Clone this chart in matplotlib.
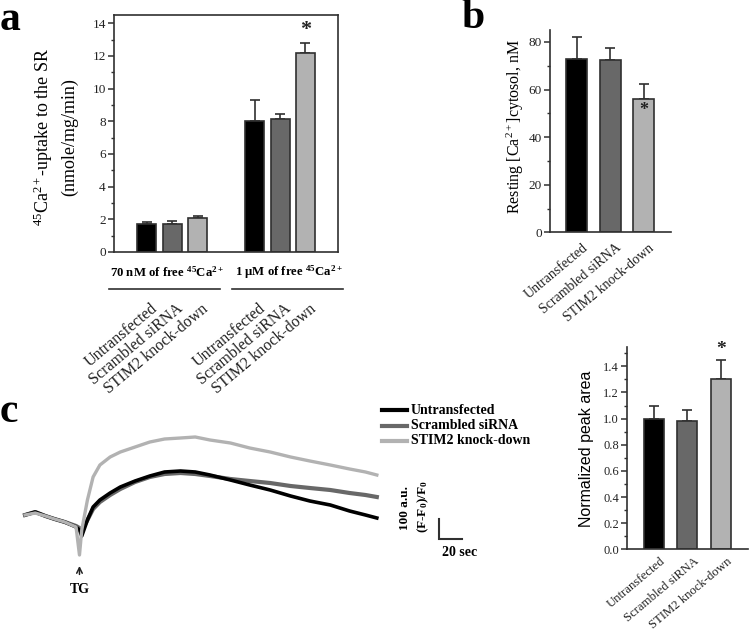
import matplotlib
matplotlib.use('Agg')
import matplotlib.pyplot as plt
from matplotlib.lines import Line2D
from matplotlib.ticker import MultipleLocator, FormatStrFormatter
from matplotlib.transforms import ScaledTranslation
import numpy as np

plt.rcParams['font.family'] = ['Liberation Serif', 'DejaVu Serif']
plt.rcParams['mathtext.fontset'] = 'custom'
plt.rcParams['mathtext.rm'] = 'Liberation Serif'
plt.rcParams['mathtext.it'] = 'Liberation Serif:italic'
plt.rcParams['mathtext.bf'] = 'Liberation Serif:bold'

# ---------------- data ----------------
groups = ['Untransfected', 'Scrambled siRNA', 'STIM2 knock-down']

# panel a: 45Ca2+ uptake (nmole/mg/min)
a_cond_labels = ['70 nM of free $^{\\mathbf{45}}\\mathbf{Ca}^{\\mathbf{2+}}$',
                 '1 µM of free $^{\\mathbf{45}}\\mathbf{Ca}^{\\mathbf{2+}}$']
a_means_70nM = [1.73, 1.73, 2.10]
a_err_70nM = [0.12, 0.14, 0.12]
a_means_1uM = [8.01, 8.11, 12.15]
a_err_1uM = [1.30, 0.31, 0.61]

# panel b: resting [Ca2+] cytosol (nM)
b_means = [72.8, 72.6, 56.2]
b_err = [9.2, 4.9, 6.0]

# panel c: normalized peak area
c_means = [1.00, 0.985, 1.30]
c_err = [0.093, 0.083, 0.145]

# panel c traces: time (s) and (F-F0)/F0 (a.u.)
trace_time = [0, 9, 18, 26, 35, 45, 48, 50, 55, 60, 66, 75, 84, 97, 110, 123,
              137, 150, 163, 181, 198, 216, 234, 251, 269, 286, 300, 310]
trace_untransfected = [0, 15, -5, -20, -35, -60, -75, -105, -25, 40, 75, 110,
                       140, 170, 195, 215, 220, 215, 200, 175, 150, 125, 95,
                       70, 50, 20, 0, -15]
trace_scrambled = [0, 15, -5, -20, -35, -55, -65, -75, -25, 30, 65, 100, 130,
                   165, 190, 205, 210, 205, 195, 180, 170, 160, 145, 135, 125,
                   110, 100, 90]
trace_stim2 = [0, 10, -5, -20, -35, -60, -200, -75, 75, 190, 250, 290, 315,
               340, 365, 380, 385, 390, 375, 360, 335, 315, 290, 270, 250, 230,
               215, 200]
tg_time = 48

# ---------------- styling ----------------
colors = ['#000000', '#686868', '#b2b2b2']
edge = '#303030'
W, H = 750, 633
fig = plt.figure(figsize=(7.5, 6.33), dpi=100)


def rect(x0, y0, x1, y1):
    return [x0 / W, 1 - y1 / H, (x1 - x0) / W, (y1 - y0) / H]


def fp(x, y):
    return (x / W, 1 - y / H)


def draw_bars(ax, pos, means, errs, width):
    ax.bar(pos, means, width, color=colors, edgecolor=edge, linewidth=1.2, zorder=2)
    ax.errorbar(pos, means, yerr=[np.zeros(len(errs)), errs], fmt='none',
                ecolor=edge, elinewidth=1.2, capsize=3.5, capthick=1.2, zorder=1)


def style_axes(ax, ymax, major, minor, labelsize, box=False):
    for s in ['top', 'right']:
        ax.spines[s].set_visible(box)
    for s in ax.spines.values():
        s.set_color(edge)
        s.set_linewidth(1.2)
    ax.set_ylim(0, ymax)
    ax.yaxis.set_major_locator(MultipleLocator(major))
    ax.yaxis.set_minor_locator(MultipleLocator(minor))
    ax.tick_params(axis='y', which='major', direction='out', length=4, width=1.1,
                   color=edge, labelcolor='#222222', labelsize=labelsize, pad=2)
    ax.tick_params(axis='y', which='minor', direction='out', length=2.5, width=1.0,
                   color=edge)
    ax.tick_params(axis='x', length=0)


def rotated_labels(ax, pos, labels, size, pad, dx):
    ax.set_xticks(pos)
    ax.set_xticklabels(labels, rotation=40, ha='right', va='top',
                       rotation_mode='anchor', fontsize=size, color='#222222')
    ax.tick_params(axis='x', pad=pad)
    for lab in ax.get_xticklabels():
        lab.set_transform(lab.get_transform() + ScaledTranslation(dx / 100, 0, fig.dpi_scale_trans))


# ---------------- panel a ----------------
axa = fig.add_axes(rect(114, 15, 338, 252))
pos1 = np.arange(3)
pos2 = pos1 + 4.25
draw_bars(axa, pos1, a_means_70nM, a_err_70nM, 0.75)
draw_bars(axa, pos2, a_means_1uM, a_err_1uM, 0.75)
axa.set_xlim(-1.29, 7.53)
style_axes(axa, 14.5, 2, 1, 9.5, box=True)
axa.tick_params(axis='y', right=False)
rotated_labels(axa, np.concatenate([pos1, pos2]), groups + groups, 11.5, 35, 4)
axa.text(pos2[2], 13.58, '*', ha='center', va='center', fontsize=16,
         fontweight='bold', color='#222222')
fig.text(*fp(55, 137), '$^{45}$Ca$^{2+}$-uptake to the SR\n(nmole/mg/min)',
         rotation=90, ha='center', va='center', multialignment='center',
         fontsize=13, linespacing=1.45)
fig.text(*fp(167, 272), a_cond_labels[0], ha='center', va='center',
         fontsize=9.2, fontweight='bold')
fig.text(*fp(289, 272), a_cond_labels[1], ha='center', va='center',
         fontsize=9.2, fontweight='bold')
for x0, x1 in [(109, 220), (232, 343)]:
    fig.add_artist(Line2D([x0 / W, x1 / W], [1 - 289 / H, 1 - 289 / H],
                          transform=fig.transFigure, color=edge, lw=1.2))
fig.text(0, 1 - 30 / H, 'a', fontsize=30, fontweight='bold', va='baseline')

# ---------------- panel b ----------------
axb = fig.add_axes(rect(550, 30, 671, 232.3))
posb = np.arange(3)
draw_bars(axb, posb, b_means, b_err, 0.63)
axb.set_xlim(-0.8, 2.82)
style_axes(axb, 85, 20, 10, 9.5)
rotated_labels(axb, posb, groups, 10, 6.5, 5)
axb.text(posb[2], 51.1, '*', ha='center', va='center', fontsize=13,
         fontweight='bold', color='#222222')
fig.text(*fp(515, 127), 'Resting [Ca$^{2+}$]cytosol, nM', rotation=90,
         ha='center', va='center', fontsize=11.5)
fig.text(461 / W, 1 - 28 / H, 'b', fontsize=30, fontweight='bold', va='baseline')

# ---------------- panel c (bars) ----------------
axc = fig.add_axes(rect(627.3, 346.7, 748, 549.3))
posc = np.arange(3)
draw_bars(axc, posc, c_means, c_err, 0.6)
axc.set_xlim(-0.8, 2.82)
style_axes(axc, 1.55, 0.2, 0.1, 9)
axc.yaxis.set_major_formatter(FormatStrFormatter('%.1f'))
rotated_labels(axc, posc, groups, 9.2, 4.5, 6)
axc.text(posc[2], 1.53, '*', ha='center', va='center', fontsize=14,
         fontweight='bold', color='#222222')
fig.text(*fp(587, 449), 'Normalized peak area', rotation=90, ha='center',
         va='center', fontsize=11.5, family=['Liberation Sans', 'DejaVu Sans'])

# ---------------- panel c (traces) ----------------
axt = fig.add_axes(rect(15, 400, 480, 605))
axt.set_xlim(-8.81, 400.9)
axt.set_ylim(-450, 575)
axt.axis('off')
axt.plot(trace_time, trace_scrambled, color=colors[1], lw=3.0, solid_joinstyle='round')
axt.plot(trace_time, trace_untransfected, color=colors[0], lw=2.6, solid_joinstyle='round')
axt.plot(trace_time, trace_stim2, color=colors[2], lw=2.4, solid_joinstyle='round')
# scale bar: 20 s, 100 a.u.
sb_t, sb_v = 364.8, -120
axt.plot([sb_t, sb_t, sb_t + 20], [sb_v + 100, sb_v, sb_v], color=edge, lw=1.5,
         solid_joinstyle='miter')
axt.annotate('', xy=(tg_time, -241), xytext=(tg_time, -311),
             arrowprops=dict(arrowstyle='->', lw=1.1, color='#222222'))
axt.text(tg_time + 0.5, -372, 'TG', ha='center', va='center', fontsize=10,
         fontweight='bold')
fig.text(*fp(405, 508), '100 a.u.', rotation=90, ha='center', va='center',
         fontsize=9.5, fontweight='bold')
fig.text(*fp(423, 507), '(F-F$_\\mathbf{0}$)/F$_\\mathbf{0}$', rotation=90, ha='center',
         va='center', fontsize=9.5, fontweight='bold')
fig.text(*fp(460, 552), '20 sec', ha='center', va='center', fontsize=10,
         fontweight='bold')
# legend
for i, (g, yy) in enumerate(zip(groups, [410, 425.5, 441])):
    fig.add_artist(Line2D([382 / W, 407 / W], [1 - yy / H] * 2,
                          transform=fig.transFigure, color=colors[i], lw=3))
    fig.text(411 / W, 1 - yy / H, g, ha='left', va='center', fontsize=10,
             fontweight='bold')
fig.text(0, 1 - 422 / H, 'c', fontsize=30, fontweight='bold', va='baseline')

fig.savefig('out.png', dpi=100)
